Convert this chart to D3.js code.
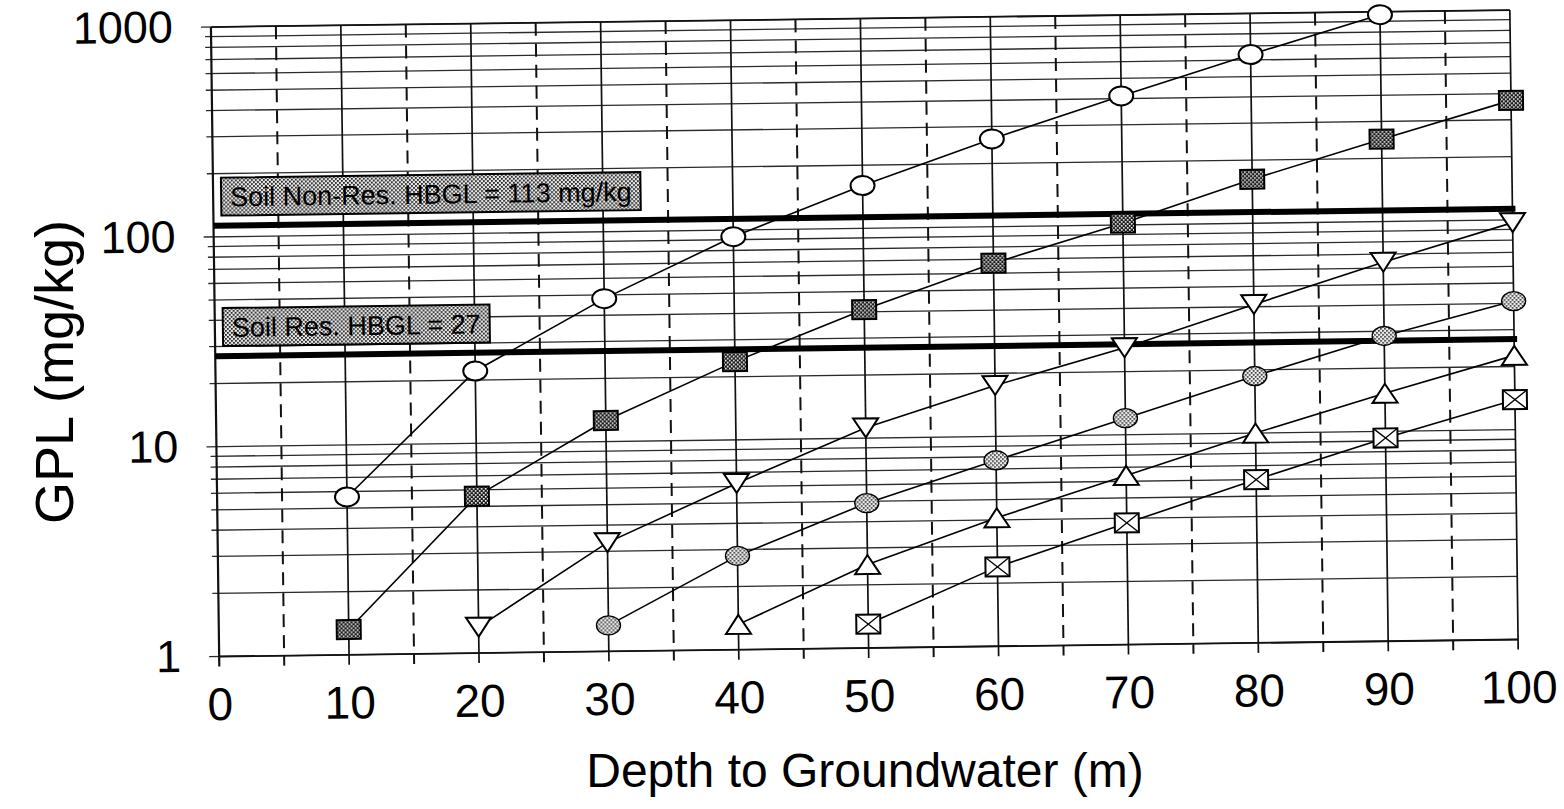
<!DOCTYPE html>
<html>
<head>
<meta charset="utf-8">
<script src="https://cdn.jsdelivr.net/npm/d3@7"></script>
<style>
  body { margin: 0; background: #fff; }
  svg { display: block; font-family: "Liberation Sans", Arial, sans-serif; }
</style>
</head>
<body>
<div id="wrapper"></div>
<script>
// values (GPL in mg/kg, null = no point)
const depths = [10, 20, 30, 40, 50, 60, 70, 80, 90, 100];
const openCircle = [5.65, 22.1, 48, 93, 160, 262, 412, 637, 968, null];
const hatchSquare = [1.32, 5.6, 12.6, 23.6, 41, 67, 102, 162, 247, 371];
const triDown = [null, 1.33, 3.3, 6.2, 11.2, 17.5, 26, 41, 64, 97];
const greyCircle = [null, null, 1.33, 2.8, 4.9, 7.7, 12, 18.7, 28.5, 41];
const triUp = [null, null, null, 1.32, 2.5, 4.1, 6.4, 10, 15.2, 22.6];
const crossSquare = [null, null, null, null, 1.3, 2.39, 3.8, 6.0, 9.3, 13.9];

const xTicks = [0, 10, 20, 30, 40, 50, 60, 70, 80, 90, 100];
const yTicks = [1, 10, 100, 1000];
const hbglValues = [113, 27];
const hbglLabels = ["Soil Non-Res. HBGL = 113 mg/kg", "Soil Res. HBGL = 27"];

const seriesList = [
  { values: openCircle, marker: "ellipse" },
  { values: hatchSquare, marker: "hatch" },
  { values: triDown, marker: "down" },
  { values: greyCircle, marker: "grey" },
  { values: triUp, marker: "up" },
  { values: crossSquare, marker: "cross" },
];

function drawChart() {
  const width = 1564;
  let dimensions = {
    width: width,
    height: 809,
    margin: { top: 18.5, right: 50, bottom: 161, left: 215 },
  };
  dimensions.boundedWidth =
    dimensions.width - dimensions.margin.left - dimensions.margin.right;
  dimensions.boundedHeight =
    dimensions.height - dimensions.margin.top - dimensions.margin.bottom;

  const wrapper = d3
    .select("#wrapper")
    .append("svg")
    .attr("width", dimensions.width)
    .attr("height", dimensions.height);

  // fill patterns (stippled greys of the scan)
  const defs = wrapper.append("defs");
  const labelPat = defs.append("pattern")
    .attr("id", "labelFill").attr("width", 4).attr("height", 4)
    .attr("patternUnits", "userSpaceOnUse");
  labelPat.append("rect").attr("width", 4).attr("height", 4).attr("fill", "#e8e8e8");
  labelPat.append("rect").attr("width", 1.8).attr("height", 1.8).attr("fill", "#222");
  labelPat.append("rect").attr("x", 2).attr("y", 2).attr("width", 1.8).attr("height", 1.8).attr("fill", "#222");

  const hatchPat = defs.append("pattern")
    .attr("id", "hatchFill").attr("width", 4).attr("height", 4)
    .attr("patternUnits", "userSpaceOnUse");
  hatchPat.append("rect").attr("width", 4).attr("height", 4).attr("fill", "#1a1a1a");
  hatchPat.append("rect").attr("width", 1.6).attr("height", 1.6).attr("fill", "#fff");
  hatchPat.append("rect").attr("x", 2).attr("y", 2).attr("width", 1.6).attr("height", 1.6).attr("fill", "#fff");

  const greyPat = defs.append("pattern")
    .attr("id", "greyFill").attr("width", 4).attr("height", 4)
    .attr("patternUnits", "userSpaceOnUse");
  greyPat.append("rect").attr("width", 4).attr("height", 4).attr("fill", "#f0f0f0");
  greyPat.append("rect").attr("width", 1.7).attr("height", 1.7).attr("fill", "#333");
  greyPat.append("rect").attr("x", 2).attr("y", 2).attr("width", 1.7).attr("height", 1.7).attr("fill", "#333");

  // the scan is slightly tilted
  const bounds = wrapper
    .append("g")
    .attr(
      "transform",
      `translate(${dimensions.margin.left}, ${dimensions.margin.top}) rotate(-0.75, 650, 315)`
    );

  const xScale = d3.scaleLinear().domain([0, 100]).range([0, dimensions.boundedWidth]);
  const yScale = d3.scaleLog().domain([1, 1000]).range([dimensions.boundedHeight, 0]);

  // horizontal grid (log minors)
  const gridValues = [];
  [1, 10, 100].forEach((dec) => d3.range(1, 10).forEach((k) => gridValues.push(dec * k)));
  gridValues.push(1000);

  bounds.append("g")
    .selectAll("line")
    .data(gridValues)
    .join("line")
    .attr("x1", (d) => (yTicks.includes(d) ? -10 : -6))
    .attr("x2", dimensions.boundedWidth)
    .attr("y1", (d) => yScale(d))
    .attr("y2", (d) => yScale(d))
    .attr("stroke", "#2a2a2a")
    .attr("stroke-width", 1.3);

  // vertical grid: solid every 10, dashed at the 5s
  const dashValues = d3.range(5, 100, 10);
  bounds.append("g")
    .selectAll("line")
    .data(dashValues)
    .join("line")
    .attr("x1", (d) => xScale(d))
    .attr("x2", (d) => xScale(d))
    .attr("y1", 0)
    .attr("y2", dimensions.boundedHeight + 10)
    .attr("stroke", "#111")
    .attr("stroke-width", 2)
    .attr("stroke-dasharray", "13 8");

  bounds.append("g")
    .selectAll("line")
    .data(xTicks)
    .join("line")
    .attr("x1", (d) => xScale(d))
    .attr("x2", (d) => xScale(d))
    .attr("y1", 0)
    .attr("y2", dimensions.boundedHeight + 10)
    .attr("stroke", "#111")
    .attr("stroke-width", (d) => (d === 0 ? 2.2 : 1.7));

  // frame top & bottom
  bounds.append("line")
    .attr("x1", 0).attr("x2", dimensions.boundedWidth)
    .attr("y1", yScale(1000)).attr("y2", yScale(1000))
    .attr("stroke", "#111").attr("stroke-width", 1.8);
  bounds.append("line")
    .attr("x1", 0).attr("x2", dimensions.boundedWidth)
    .attr("y1", yScale(1)).attr("y2", yScale(1))
    .attr("stroke", "#111").attr("stroke-width", 1.8);

  // HBGL lines with their label boxes
  bounds.append("g")
    .selectAll("line")
    .data(hbglValues)
    .join("line")
    .attr("x1", 0)
    .attr("x2", dimensions.boundedWidth + 3)
    .attr("y1", (d) => yScale(d))
    .attr("y2", (d) => yScale(d))
    .attr("stroke", "#000")
    .attr("stroke-width", 6);

  const boxHeight = 38;
  const boxGroups = bounds.append("g")
    .selectAll("g")
    .data(hbglValues)
    .join("g")
    .attr("transform", (d) => `translate(${xScale(0) + 8}, ${yScale(d) - 10 - boxHeight})`);

  const boxRects = boxGroups.append("rect")
    .attr("height", boxHeight)
    .attr("fill", "url(#labelFill)")
    .attr("stroke", "#000")
    .attr("stroke-width", 2);

  const boxTexts = boxGroups.append("text")
    .attr("x", 9)
    .attr("y", boxHeight / 2)
    .attr("dy", "0.36em")
    .style("font-size", "27px")
    .attr("fill", "#000")
    .text((d, i) => hbglLabels[i]);

  boxTexts.each(function (d, i) {
    const w = this.getComputedTextLength();
    d3.select(boxRects.nodes()[i]).attr("width", w + 18);
  });

  // series lines
  const lineGenerator = d3.line()
    .defined((d) => d.v != null)
    .x((d) => xScale(d.x))
    .y((d) => yScale(d.v));

  const seriesGroups = bounds.append("g")
    .selectAll("g")
    .data(seriesList)
    .join("g");

  seriesGroups.append("path")
    .attr("d", (s) => lineGenerator(depths.map((x, i) => ({ x: x, v: s.values[i] }))))
    .attr("fill", "none")
    .attr("stroke", "#000")
    .attr("stroke-width", 1.6);

  // markers
  seriesGroups.each(function (s) {
    const pts = depths
      .map((x, i) => ({ x: x, v: s.values[i] }))
      .filter((d) => d.v != null);
    const marks = d3.select(this)
      .selectAll("g.mark")
      .data(pts)
      .join("g")
      .attr("class", "mark")
      .attr("transform", (d) => `translate(${xScale(d.x)}, ${yScale(d.v)})`);

    if (s.marker === "ellipse" || s.marker === "grey") {
      marks.append("ellipse")
        .attr("rx", 12).attr("ry", 9.5)
        .attr("fill", s.marker === "grey" ? "url(#greyFill)" : "#fff")
        .attr("stroke", "#000").attr("stroke-width", s.marker === "grey" ? 1.4 : 2);
    } else if (s.marker === "hatch" || s.marker === "cross") {
      marks.append("rect")
        .attr("x", -12).attr("y", -9.5).attr("width", 24).attr("height", 19)
        .attr("fill", s.marker === "hatch" ? "url(#hatchFill)" : "#fff")
        .attr("stroke", "#000").attr("stroke-width", 2);
      if (s.marker === "cross") {
        marks.append("path")
          .attr("d", "M-12,-9.5L12,9.5M12,-9.5L-12,9.5")
          .attr("stroke", "#000").attr("stroke-width", 1.3);
      }
    } else {
      const d = s.marker === "down"
        ? "M-12.5,-9.5L12.5,-9.5L0,9.5Z"
        : "M0,-9.5L12.5,9.5L-12.5,9.5Z";
      marks.append("path")
        .attr("d", d)
        .attr("fill", "#fff")
        .attr("stroke", "#000").attr("stroke-width", 2)
        .attr("stroke-linejoin", "miter");
    }
  });

  // axes
  const xAxis = bounds.append("g")
    .attr("transform", `translate(0, ${dimensions.boundedHeight})`)
    .call(d3.axisBottom(xScale).tickValues(xTicks).tickSize(0).tickPadding(31));
  xAxis.select(".domain").remove();
  xAxis.selectAll("text")
    .style("font-size", "46px")
    .style("font-family", '"Liberation Sans", Arial, sans-serif')
    .attr("fill", "#000");

  const yAxis = bounds.append("g")
    .call(d3.axisLeft(yScale).tickValues(yTicks).tickFormat(d3.format("d")).tickSize(0).tickPadding(38));
  yAxis.select(".domain").remove();
  yAxis.selectAll("text")
    .style("font-size", "45px")
    .style("font-family", '"Liberation Sans", Arial, sans-serif')
    .attr("fill", "#000");

  // axis titles
  wrapper.append("text")
    .attr("x", 865)
    .attr("y", 787)
    .attr("text-anchor", "middle")
    .style("font-size", "48px")
    .attr("fill", "#000")
    .text("Depth to Groundwater (m)");

  wrapper.append("text")
    .attr("transform", "translate(73, 372) rotate(-90)")
    .attr("text-anchor", "middle")
    .style("font-size", "54px")
    .attr("fill", "#000")
    .text("GPL (mg/kg)");
}
drawChart();
</script>
</body>
</html>
